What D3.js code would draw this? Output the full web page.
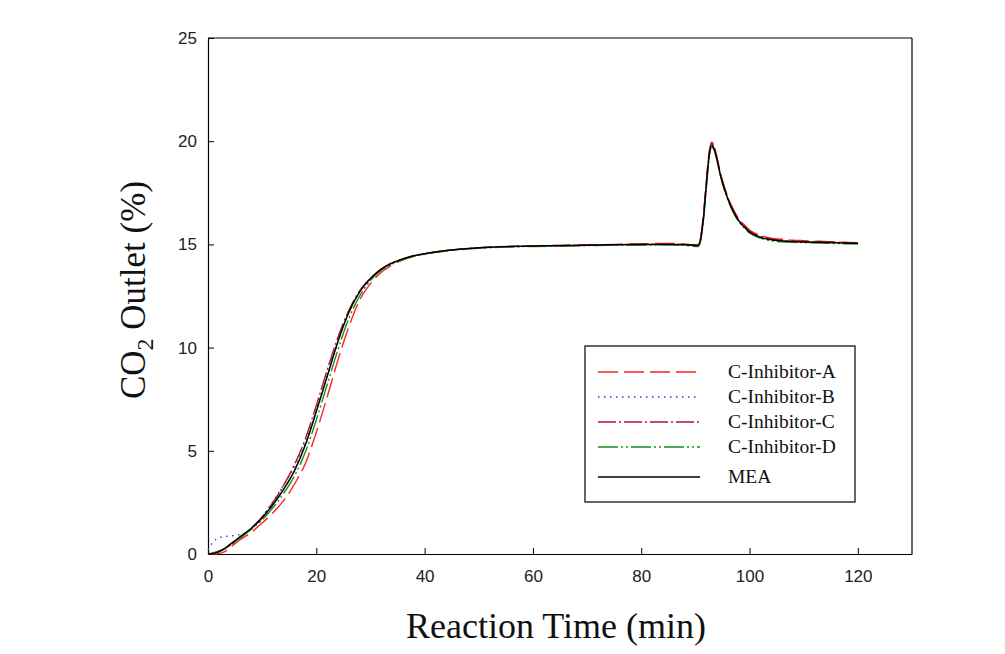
<!DOCTYPE html>
<html><head><meta charset="utf-8">
<script src="https://cdn.jsdelivr.net/npm/d3@7"></script>
<style>body{margin:0;background:#fff}svg{display:block}</style>
</head><body><svg id="c" width="1005" height="654"></svg>
<script>
const times = [0,1,2,3,4,5,6,8,10,12,14,16,18,20,22,24,26,28,30,32,34,36,38,40,44,48,52,56,60,65,70,75,80,85,88,90,90.5,91,91.5,92,92.5,93,93.5,94,94.5,95,96,97,98,99,100,102,104,106,108,110,113,116,120];
const seriesNames = ["C-Inhibitor-A","C-Inhibitor-B","C-Inhibitor-C","C-Inhibitor-D","MEA"];
const inhibitorA = [0,0,0.02,0.1,0.3,0.5,0.7,1.05,1.5,2.0,2.6,3.4,4.4,5.9,7.6,9.4,11.0,12.3,13.1,13.65,14.0,14.25,14.42,14.53,14.7,14.8,14.86,14.9,14.93,14.95,14.98,15.0,15.03,15.05,15.02,14.98,14.98,15.4,16.5,18.0,19.4,19.95,19.75,19.2,18.6,18.1,17.3,16.7,16.25,15.95,15.7,15.45,15.3,15.25,15.2,15.18,15.15,15.12,15.08];
const inhibitorB = [0.2,0.6,0.78,0.84,0.87,0.9,0.95,1.2,1.8,2.55,3.35,4.25,5.4,7.0,8.6,10.3,11.7,12.7,13.35,13.8,14.1,14.3,14.45,14.55,14.7,14.8,14.86,14.9,14.92,14.94,14.96,14.98,14.99,15.0,14.98,14.95,14.95,15.3,16.3,17.8,19.2,19.8,19.6,19.1,18.5,18.0,17.2,16.6,16.15,15.85,15.6,15.35,15.22,15.17,15.14,15.12,15.1,15.08,15.05];
const inhibitorC = [0,0.05,0.15,0.25,0.4,0.6,0.8,1.25,1.8,2.5,3.35,4.35,5.6,7.2,8.9,10.5,11.8,12.75,13.35,13.8,14.1,14.3,14.45,14.55,14.7,14.8,14.86,14.9,14.93,14.95,14.97,14.99,15.0,15.02,15.0,14.96,14.96,15.35,16.4,17.9,19.3,19.9,19.7,19.15,18.55,18.05,17.25,16.65,16.2,15.9,15.65,15.4,15.27,15.2,15.16,15.14,15.12,15.1,15.07];
const inhibitorD = [0,0.05,0.12,0.25,0.4,0.58,0.78,1.2,1.65,2.25,2.95,3.8,4.95,6.5,8.2,9.9,11.4,12.5,13.25,13.75,14.05,14.27,14.43,14.53,14.68,14.78,14.84,14.88,14.9,14.92,14.94,14.96,14.97,14.98,14.95,14.9,14.9,15.2,16.2,17.7,19.1,19.7,19.55,19.05,18.45,17.95,17.15,16.55,16.1,15.8,15.55,15.3,15.18,15.12,15.1,15.08,15.06,15.04,15.02];
const mea = [0,0.02,0.1,0.25,0.45,0.65,0.85,1.25,1.75,2.4,3.15,4.05,5.3,6.9,8.6,10.3,11.7,12.7,13.35,13.8,14.1,14.3,14.45,14.55,14.7,14.8,14.86,14.9,14.92,14.94,14.96,14.98,14.99,15.0,14.98,14.95,14.95,15.3,16.3,17.8,19.2,19.8,19.6,19.1,18.5,18.0,17.2,16.6,16.15,15.85,15.6,15.35,15.22,15.17,15.14,15.12,15.1,15.08,15.05];
const xTicks = [0,20,40,60,80,100,120];
const yTicks = [0,5,10,15,20,25];

const allValues = [inhibitorA, inhibitorB, inhibitorC, inhibitorD, mea];
const styles = [
  {color:"#ff2222", dash:"20,6", w:1.4},
  {color:"#3a3ac8", dash:"1.5,4.5", w:1.4},
  {color:"#a8182e", dash:"18,3,2,3", w:1.4},
  {color:"#14901a", dash:"20,3,2,3,2,3", w:1.4},
  {color:"#000000", dash:null, w:1.5}
];

const svg = d3.select("#c");
const L = 208, R = 912, T = 38, B = 554;
const x = d3.scaleLinear().domain([0,130]).range([L,R]);
const y = d3.scaleLinear().domain([0,25]).range([B,T]);

svg.append("line").attr("x1",L).attr("x2",R).attr("y1",T).attr("y2",T).attr("stroke","#000").attr("stroke-width",1.2);
svg.append("line").attr("x1",R).attr("x2",R).attr("y1",T).attr("y2",B).attr("stroke","#000").attr("stroke-width",1.2);

const xa = svg.append("g").attr("transform",`translate(0,${B})`)
  .call(d3.axisBottom(x).tickValues(xTicks).tickSizeInner(-6).tickSizeOuter(0).tickPadding(16));
const ya = svg.append("g").attr("transform",`translate(${L},0)`)
  .call(d3.axisLeft(y).tickValues(yTicks).tickSizeInner(-6).tickSizeOuter(0).tickPadding(11));
[xa,ya].forEach(g=>{
  g.select(".domain").attr("stroke","#000").attr("stroke-width",1.2);
  g.selectAll(".tick line").attr("stroke","#000");
  g.selectAll("text").attr("font-family","'Liberation Sans', Arial, sans-serif").attr("font-size",17).attr("fill","#222");
});

const line = d3.line().x((d,i)=>x(times[i])).y(d=>y(d)).curve(d3.curveMonotoneX);
allValues.forEach((vals,k)=>{
  const p = svg.append("path").attr("d",line(vals)).attr("fill","none")
    .attr("stroke",styles[k].color).attr("stroke-width",styles[k].w);
  if(styles[k].dash) p.attr("stroke-dasharray",styles[k].dash);
});

const lg = svg.append("g");
lg.append("rect").attr("x",585).attr("y",346).attr("width",270).attr("height",156)
  .attr("fill","#fff").attr("stroke","#000").attr("stroke-width",1.2);
const rowsY = [372,397,422,447,477];
seriesNames.forEach((n,k)=>{
  const l = lg.append("line").attr("x1",598).attr("x2",700).attr("y1",rowsY[k]).attr("y2",rowsY[k])
    .attr("stroke",styles[k].color).attr("stroke-width",styles[k].w);
  if(styles[k].dash) l.attr("stroke-dasharray",styles[k].dash);
  lg.append("text").attr("x",728).attr("y",rowsY[k]+6).text(n)
    .attr("font-family","'Liberation Serif','Times New Roman',serif").attr("font-size",19.5).attr("fill","#111");
});

svg.append("text").attr("x",556).attr("y",638).attr("text-anchor","middle")
  .attr("font-family","'Liberation Serif','Times New Roman',serif").attr("font-size",36).attr("fill","#111")
  .text("Reaction Time (min)");
const yt = svg.append("text").attr("transform","translate(145,290) rotate(-90)").attr("text-anchor","middle")
  .attr("font-family","'Liberation Serif','Times New Roman',serif").attr("font-size",35).attr("fill","#111");
yt.append("tspan").text("CO");
yt.append("tspan").attr("dy",8).attr("font-size",24).text("2");
yt.append("tspan").attr("dy",-8).text(" Outlet (%)");
</script></body></html>
